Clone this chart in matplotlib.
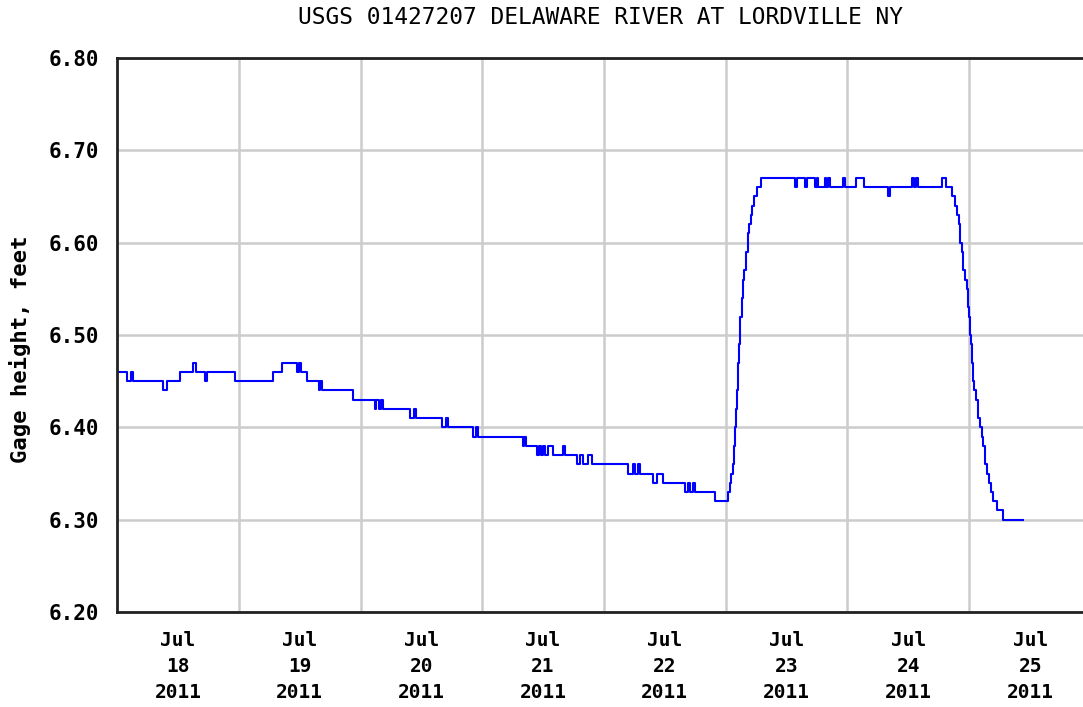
import numpy as np
import matplotlib
matplotlib.use("Agg")
import matplotlib.pyplot as plt

# hours since 2011-07-18 00:00 (step changes)
hours = [0.0, 1.97, 2.76, 3.16, 9.07, 9.86, 12.42, 14.99, 15.58, 17.35,
         17.75, 23.27, 30.76, 32.54, 35.50, 35.89, 36.29, 37.47, 39.84, 40.03,
         40.43, 46.54, 50.88, 51.08, 51.67, 52.06, 52.46, 53.25, 57.78, 58.57,
         58.97, 64.09, 64.88, 65.28, 65.67, 70.21, 70.80, 71.19, 80.07, 80.26,
         80.66, 81.05, 82.83, 83.22, 83.62, 84.01, 84.41, 85.00, 85.98, 87.96,
         88.35, 90.72, 91.31, 91.90, 92.89, 93.67, 100.77, 101.76, 102.15, 102.74,
         103.14, 105.70, 106.49, 107.68, 112.02, 112.61, 113.00, 113.60, 113.99, 117.93,
         120.50, 120.89, 121.09, 121.48, 121.68, 121.88, 122.07, 122.27, 122.47, 122.67,
         122.86, 123.26, 123.45, 123.65, 124.04, 124.44, 124.64, 125.03, 125.23, 125.62,
         126.21, 127.00, 133.71, 134.10, 135.68, 136.07, 137.65, 138.05, 138.24, 139.63,
         139.82, 140.22, 140.61, 143.17, 143.57, 145.74, 147.32, 152.05, 152.45, 156.79,
         157.18, 157.57, 157.97, 162.70, 163.49, 164.67, 165.26, 165.66, 166.05, 166.25,
         166.64, 166.84, 167.23, 167.63, 167.83, 168.02, 168.22, 168.42, 168.62, 168.81,
         169.01, 169.40, 169.80, 170.19, 170.59, 170.78, 171.18, 171.57, 171.97, 172.36,
         172.75, 173.54, 174.73, 178.67]
gage = [6.46, 6.45, 6.46, 6.45, 6.44, 6.45, 6.46, 6.47, 6.46, 6.45,
        6.46, 6.45, 6.46, 6.47, 6.46, 6.47, 6.46, 6.45, 6.44, 6.45,
        6.44, 6.43, 6.42, 6.43, 6.42, 6.43, 6.42, 6.42, 6.41, 6.42,
        6.41, 6.40, 6.41, 6.40, 6.40, 6.39, 6.40, 6.39, 6.38, 6.39,
        6.38, 6.38, 6.37, 6.38, 6.37, 6.38, 6.37, 6.38, 6.37, 6.38,
        6.37, 6.36, 6.37, 6.36, 6.37, 6.36, 6.35, 6.36, 6.35, 6.36,
        6.35, 6.34, 6.35, 6.34, 6.33, 6.34, 6.33, 6.34, 6.33, 6.32,
        6.33, 6.34, 6.35, 6.36, 6.38, 6.40, 6.42, 6.44, 6.47, 6.49,
        6.52, 6.54, 6.56, 6.57, 6.59, 6.61, 6.62, 6.63, 6.64, 6.65,
        6.66, 6.67, 6.66, 6.67, 6.66, 6.67, 6.66, 6.67, 6.66, 6.67,
        6.66, 6.67, 6.66, 6.67, 6.66, 6.67, 6.66, 6.65, 6.66, 6.67,
        6.66, 6.67, 6.66, 6.67, 6.66, 6.65, 6.64, 6.63, 6.62, 6.60,
        6.59, 6.57, 6.56, 6.55, 6.53, 6.52, 6.50, 6.49, 6.47, 6.45,
        6.44, 6.43, 6.41, 6.40, 6.39, 6.38, 6.36, 6.35, 6.34, 6.33,
        6.32, 6.31, 6.30, 6.30]

days = [18, 19, 20, 21, 22, 23, 24, 25]
xlabels = ["Jul\n%d\n2011" % d for d in days]
yticks = [6.2, 6.3, 6.4, 6.5, 6.6, 6.7, 6.8]
title = "USGS 01427207 DELAWARE RIVER AT LORDVILLE NY"

mono = "DejaVu Sans Mono"

fig = plt.figure(figsize=(10.83, 7.07), dpi=100)
ax = fig.add_axes([117 / 1083, 95 / 707, (1091 - 117) / 1083, (612 - 58) / 707])

ax.plot(hours, gage, drawstyle="steps-post", color="#0000ff", lw=1.5)

ax.set_xlim(0, 192)
ax.set_ylim(6.2, 6.8)

# gridlines at midnight, labels at noon
ax.set_xticks([24 * i for i in range(1, 8)])
ax.set_xticklabels([])
ax.set_xticks([24 * i + 12 for i in range(len(days))], minor=True)
ax.set_xticklabels(xlabels, minor=True, fontfamily=mono, fontweight="bold",
                   fontsize=14, linespacing=1.45)
ax.set_yticks(yticks)
ax.set_yticklabels(["%.2f" % v for v in yticks], fontfamily=mono,
                   fontweight="bold", fontsize=15)
ax.tick_params(axis="both", which="both", length=0)
ax.tick_params(axis="y", pad=13)
ax.tick_params(axis="x", which="minor", pad=14)

ax.grid(True, which="major", color="#cccccc", lw=1.8)
ax.set_axisbelow(True)

for s in ["left", "bottom", "top"]:
    ax.spines[s].set_linewidth(2)
    ax.spines[s].set_color("#222222")
ax.spines["right"].set_visible(False)

ax.set_ylabel("Gage height, feet", fontfamily=mono, fontweight="bold", fontsize=16)
ax.yaxis.set_label_coords(-0.088, 0.475)

fig.text(601 / 1083, 1 - 18 / 707, title, fontfamily=mono, fontsize=16.5,
         ha="center", va="center")

fig.savefig("out.png", dpi=100)
